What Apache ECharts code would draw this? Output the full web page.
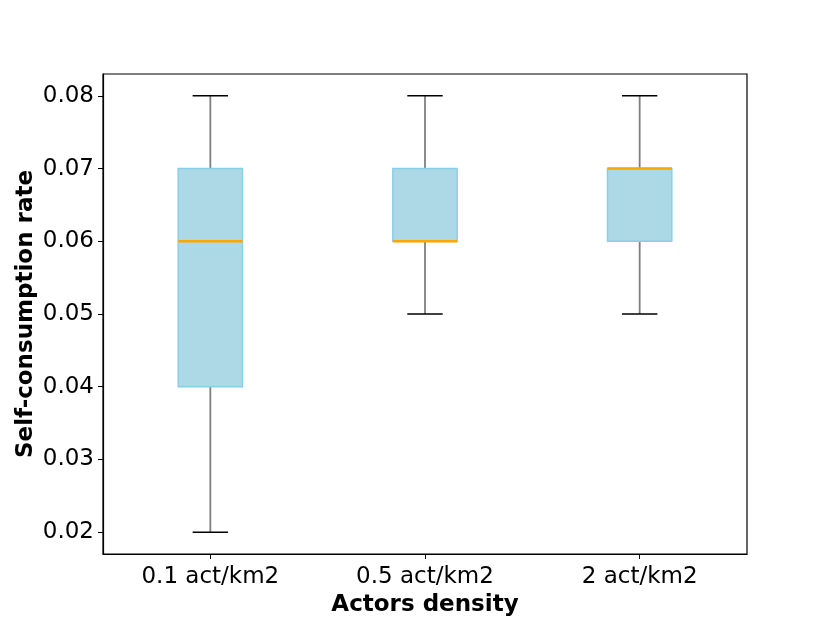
<!DOCTYPE html>
<html>
<head>
<meta charset="utf-8">
<script src="https://cdn.jsdelivr.net/npm/echarts@6.0.0/dist/echarts.min.js"></script>
<style>
html, body { margin: 0; padding: 0; background: #fff; }
#chart { width: 830px; height: 623px; }
</style>
</head>
<body>
<div id="chart"></div>
<script>
// box statistics
var categories = ['0.1 act/km2', '0.5 act/km2', '2 act/km2'];
var lows    = [0.02, 0.05, 0.05];
var q1s     = [0.04, 0.06, 0.06];
var medians = [0.06, 0.06, 0.07];
var q3s     = [0.07, 0.07, 0.07];
var highs   = [0.08, 0.08, 0.08];
var yTicks  = [0.02, 0.03, 0.04, 0.05, 0.06, 0.07, 0.08];

var boxData = categories.map(function (c, i) {
    return [i, lows[i], q1s[i], medians[i], q3s[i], highs[i]];
});

function renderBox(params, api) {
    var i = api.value(0);
    var band = api.size([1, 0])[0];
    var half = band * 0.3 / 2;
    var capHalf = band * 0.165 / 2;
    var pLow = api.coord([i, api.value(1)]);
    var pQ1 = api.coord([i, api.value(2)]);
    var pMed = api.coord([i, api.value(3)]);
    var pQ3 = api.coord([i, api.value(4)]);
    var pHigh = api.coord([i, api.value(5)]);
    var x = pQ1[0];
    var whisker = { stroke: '#7f7f7f', lineWidth: 1.8 };
    var cap = { stroke: '#000', lineWidth: 1.4 };
    return {
        type: 'group',
        children: [
            { type: 'line', shape: { x1: x, y1: pQ1[1], x2: x, y2: pLow[1] }, style: whisker },
            { type: 'line', shape: { x1: x, y1: pQ3[1], x2: x, y2: pHigh[1] }, style: whisker },
            { type: 'line', shape: { x1: x - capHalf, y1: pLow[1], x2: x + capHalf, y2: pLow[1] }, style: cap },
            { type: 'line', shape: { x1: x - capHalf, y1: pHigh[1], x2: x + capHalf, y2: pHigh[1] }, style: cap },
            { type: 'rect', shape: { x: x - half, y: pQ3[1], width: half * 2, height: pQ1[1] - pQ3[1] },
              style: { fill: '#add8e6', stroke: '#87ceeb', lineWidth: 1.4 } },
            { type: 'line', shape: { x1: x - half, y1: pMed[1], x2: x + half, y2: pMed[1] },
              style: { stroke: '#ffa500', lineWidth: 2.6 } }
        ]
    };
}

var chart = echarts.init(document.getElementById('chart'));
chart.setOption({
    animation: false,
    textStyle: { fontFamily: 'DejaVu Sans' },
    grid: {
        left: 103, right: 83, top: 74, bottom: 69,
        show: true, borderColor: '#000', borderWidth: 1.2, backgroundColor: 'transparent'
    },
    xAxis: {
        type: 'category',
        data: categories,
        name: 'Actors density',
        nameLocation: 'middle',
        nameGap: 40,
        nameMoveOverlap: false,
        nameTextStyle: { fontSize: 23, fontWeight: 'bold', color: '#000' },
        axisLine: { show: true, lineStyle: { color: '#000', width: 1.2 } },
        axisTick: { show: true, alignWithLabel: true, length: 5, lineStyle: { color: '#000' } },
        axisLabel: { fontSize: 23, color: '#000', margin: 12 },
        splitLine: { show: false }
    },
    yAxis: {
        type: 'value',
        min: 0.017,
        max: 0.083,
        name: 'Self-consumption rate',
        nameLocation: 'middle',
        nameGap: 65,
        nameMoveOverlap: false,
        nameTextStyle: { fontSize: 23, fontWeight: 'bold', color: '#000' },
        axisLine: { show: true, lineStyle: { color: '#000', width: 1.2 } },
        axisTick: { show: true, length: 5, lineStyle: { color: '#000' }, customValues: yTicks },
        axisLabel: {
            fontSize: 23, color: '#000', margin: 9, customValues: yTicks,
            formatter: function (v) { return v.toFixed(2); }
        },
        splitLine: { show: false }
    },
    series: [{
        type: 'custom',
        renderItem: renderBox,
        encode: { x: 0, y: [1, 2, 3, 4, 5] },
        data: boxData
    }]
});
</script>
</body>
</html>
